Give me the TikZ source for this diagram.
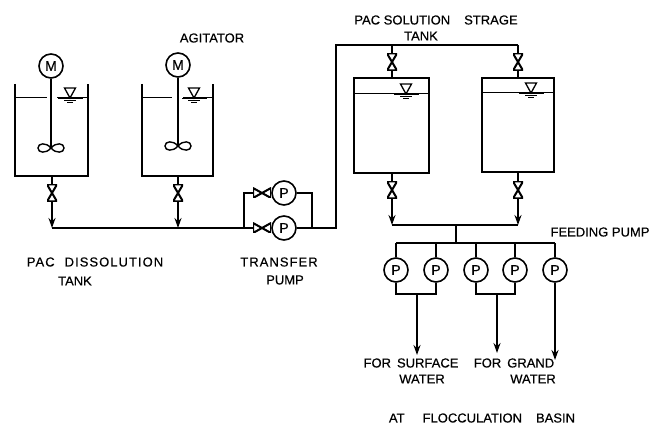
\documentclass[tikz,border=0pt]{standalone}
\usepackage{fontspec}
\setmainfont{Liberation Sans}[FakeBold=0.4]
\usetikzlibrary{arrows.meta}
\tikzset{
  x=1pt,y=-1pt,
  pipe/.style={line width=2pt,black},
  flow/.style={pipe,-{Stealth[length=10pt,width=7pt]}},
  wall/.style={line width=1.6pt,black},
  thinline/.style={line width=1pt,black},
  shaft/.style={line width=2pt,black},
  machine/.style={circle,draw=black,line width=1.6pt,fill=white,minimum size=24pt,inner sep=0pt,font=\fontsize{14}{14}\selectfont},
  valvev/.style={rectangle,inner sep=0pt,minimum width=10pt,minimum height=17pt,fill=white,
    path picture={\draw[line width=2pt] (path picture bounding box.north west)--(path picture bounding box.north east)--(path picture bounding box.south west)--(path picture bounding box.south east)--cycle;}},
  valveh/.style={rectangle,inner sep=0pt,minimum width=18pt,minimum height=10pt,fill=white,
    path picture={\draw[line width=2pt] (path picture bounding box.north west)--(path picture bounding box.south west)--(path picture bounding box.north east)--(path picture bounding box.south east)--cycle;}},
  lab/.style={font=\fontsize{13}{13}\selectfont,inner sep=0pt,text=black},
  wide/.style={font=\fontsize{13}{13}\selectfont\addfontfeature{LetterSpace=8},inner sep=0pt,text=black},
}
\newcommand{\levelmark}[2]{%
  \draw[line width=1.3pt] (#1-5.5,#2-10)--(#1+5.5,#2-10)--(#1,#2)--cycle;
  \draw[line width=1pt] (#1-12,#2+1)--(#1+13,#2+1) (#1-6,#2+3)--(#1+6,#2+3) (#1-3,#2+5)--(#1+3,#2+5);}
\newcommand{\impeller}[2]{%
  \draw[line width=1.4pt] (#1,#2) .. controls (#1-5,#2-6) and (#1-13,#2-5) .. (#1-13,#2) .. controls (#1-13,#2+5) and (#1-5,#2+6) .. (#1,#2)
    .. controls (#1+5,#2-6) and (#1+13,#2-5) .. (#1+13,#2) .. controls (#1+13,#2+5) and (#1+5,#2+6) .. (#1,#2);}
\begin{document}
\begin{tikzpicture}
\useasboundingbox (0,0) rectangle (650,430);
\fill[white] (0,0) rectangle (650,430);

% dissolution tanks
\draw[wall] (15,84)--(15,176)--(88,176)--(88,84);
\draw[wall] (142,84)--(142,176)--(213,176)--(213,84);
\draw[thinline] (16,98)--(47,98) (57,98)--(87,98);
\draw[thinline] (143,98)--(172,98) (183,98)--(212,98);
\levelmark{70}{98}
\levelmark{194}{98}
\node[machine] (m1) at (51,66) {M};
\node[machine] (m2) at (178,65) {M};
\coordinate (imp1) at (51,148);
\coordinate (imp2) at (178,146);
\draw[shaft] (m1.south)--(imp1);
\draw[shaft] (m2.south)--(imp2);
\impeller{51}{148}
\impeller{178}{146}

% dissolution outlets
\coordinate (t1out) at (52,177);
\coordinate (t2out) at (178,177);
\node[valvev] (v1) at (52,193) {};
\node[valvev] (v2) at (178,193) {};
\coordinate (j1) at (52,228);
\coordinate (j2) at (178,228);
\draw[pipe] (t1out)--(v1.north);
\draw[pipe] (t2out)--(v2.north);
\draw[flow] (v1.south)--(j1);
\draw[flow] (v2.south)--(j2);

% transfer pumps
\node[machine] (tp1) at (284,193) {P};
\node[machine] (tp2) at (284,228) {P};
\node[valveh] (tv1) at (262,193) {};
\node[valveh] (tv2) at (262,228) {};
\coordinate (sl) at (244,228);
\coordinate (sr) at (312,228);
\coordinate (up) at (336,228);
\coordinate (hl) at (336,45);
\coordinate (hr) at (518,45);
\coordinate (hm) at (392,45);
\draw[pipe] (j1)--(sl)--(tv2.west);
\draw[pipe] (sl)|-(tv1.west);
\draw[pipe] (tv1.east)--(tp1.west);
\draw[pipe] (tv2.east)--(tp2.west);
\draw[pipe] (tp1.east)-|(sr);
\draw[pipe] (tp2.east)--(up)--(hl)--(hr);

% storage tanks
\draw[wall] (354,78) rectangle (429,173);
\draw[wall] (482,78) rectangle (554,172);
\draw[thinline] (355,94)--(428,94);
\draw[thinline] (483,93)--(553,93);
\levelmark{406}{94}
\levelmark{531}{93}
\node[valvev] (v3) at (392,62) {};
\node[valvev] (v4) at (518,62) {};
\coordinate (s1in) at (392,78);
\coordinate (s2in) at (518,78);
\draw[pipe] (hm)--(v3.north);
\draw[pipe] (v3.south)--(s1in);
\draw[pipe] (hr)--(v4.north);
\draw[pipe] (v4.south)--(s2in);
\coordinate (s1out) at (392,173);
\coordinate (s2out) at (518,172);
\node[valvev] (v5) at (392,190) {};
\node[valvev] (v6) at (518,190) {};
\coordinate (c1) at (392,225);
\coordinate (c2) at (518,225);
\coordinate (c3) at (456,225);
\coordinate (h0) at (456,243);
\draw[pipe] (s1out)--(v5.north);
\draw[pipe] (s2out)--(v6.north);
\draw[flow] (v5.south)--(c1);
\draw[flow] (v6.south)--(c2);
\draw[pipe] (c1)--(c2);
\draw[pipe] (c3)--(h0);

% feeding pumps
\node[machine] (p1) at (396,270) {P};
\node[machine] (p2) at (436,270) {P};
\node[machine] (p3) at (476,270) {P};
\node[machine] (p4) at (515,270) {P};
\node[machine] (p5) at (555,270) {P};
\coordinate (h1) at (396,243);
\coordinate (h5) at (555,243);
\draw[pipe] (h1)--(h5);
\draw[pipe] (h1)--(p1.north);
\draw[pipe] (p2.north|-h1)--(p2.north);
\draw[pipe] (p3.north|-h1)--(p3.north);
\draw[pipe] (p4.north|-h1)--(p4.north);
\draw[pipe] (h5)--(p5.north);
\draw[pipe] (p1.south)|-(436,294)--(p2.south);
\draw[pipe] (p3.south)|-(515,294)--(p4.south);
\coordinate (o1) at (417,294);
\coordinate (o2) at (497,294);
\coordinate (e1) at (417,355);
\coordinate (e2) at (497,353);
\coordinate (e3) at (555,360);
\draw[flow] (o1)--(e1);
\draw[flow] (o2)--(e2);
\draw[flow] (p5.south)--(e3);

% labels
\node[lab] (a) at (212,38) {AGITATOR};
\node[lab] (b) at (436,20) {PAC SOLUTION\hspace{14pt}STRAGE};
\node[lab] (c) at (421,36) {TANK};
\node[wide] (d) at (95,262) {PAC\hspace{10pt}DISSOLUTION};
\node[lab] (e) at (75,281) {TANK};
\node[wide] (f) at (279,262) {TRANSFER};
\node[lab] (g) at (285,280) {PUMP};
\node[lab] (h) at (600,232) {FEEDING PUMP};
\node[lab] (i) at (411,363) {FOR\hspace{6pt}SURFACE};
\node[lab] (k) at (422,379) {WATER};
\node[lab] (l) at (514,363) {FOR\hspace{6pt}GRAND};
\node[lab] (n) at (533,379) {WATER};
\node[lab] (o) at (482,418) {AT\hspace{18pt}FLOCCULATION\hspace{14pt}BASIN};
\end{tikzpicture}
\end{document}
